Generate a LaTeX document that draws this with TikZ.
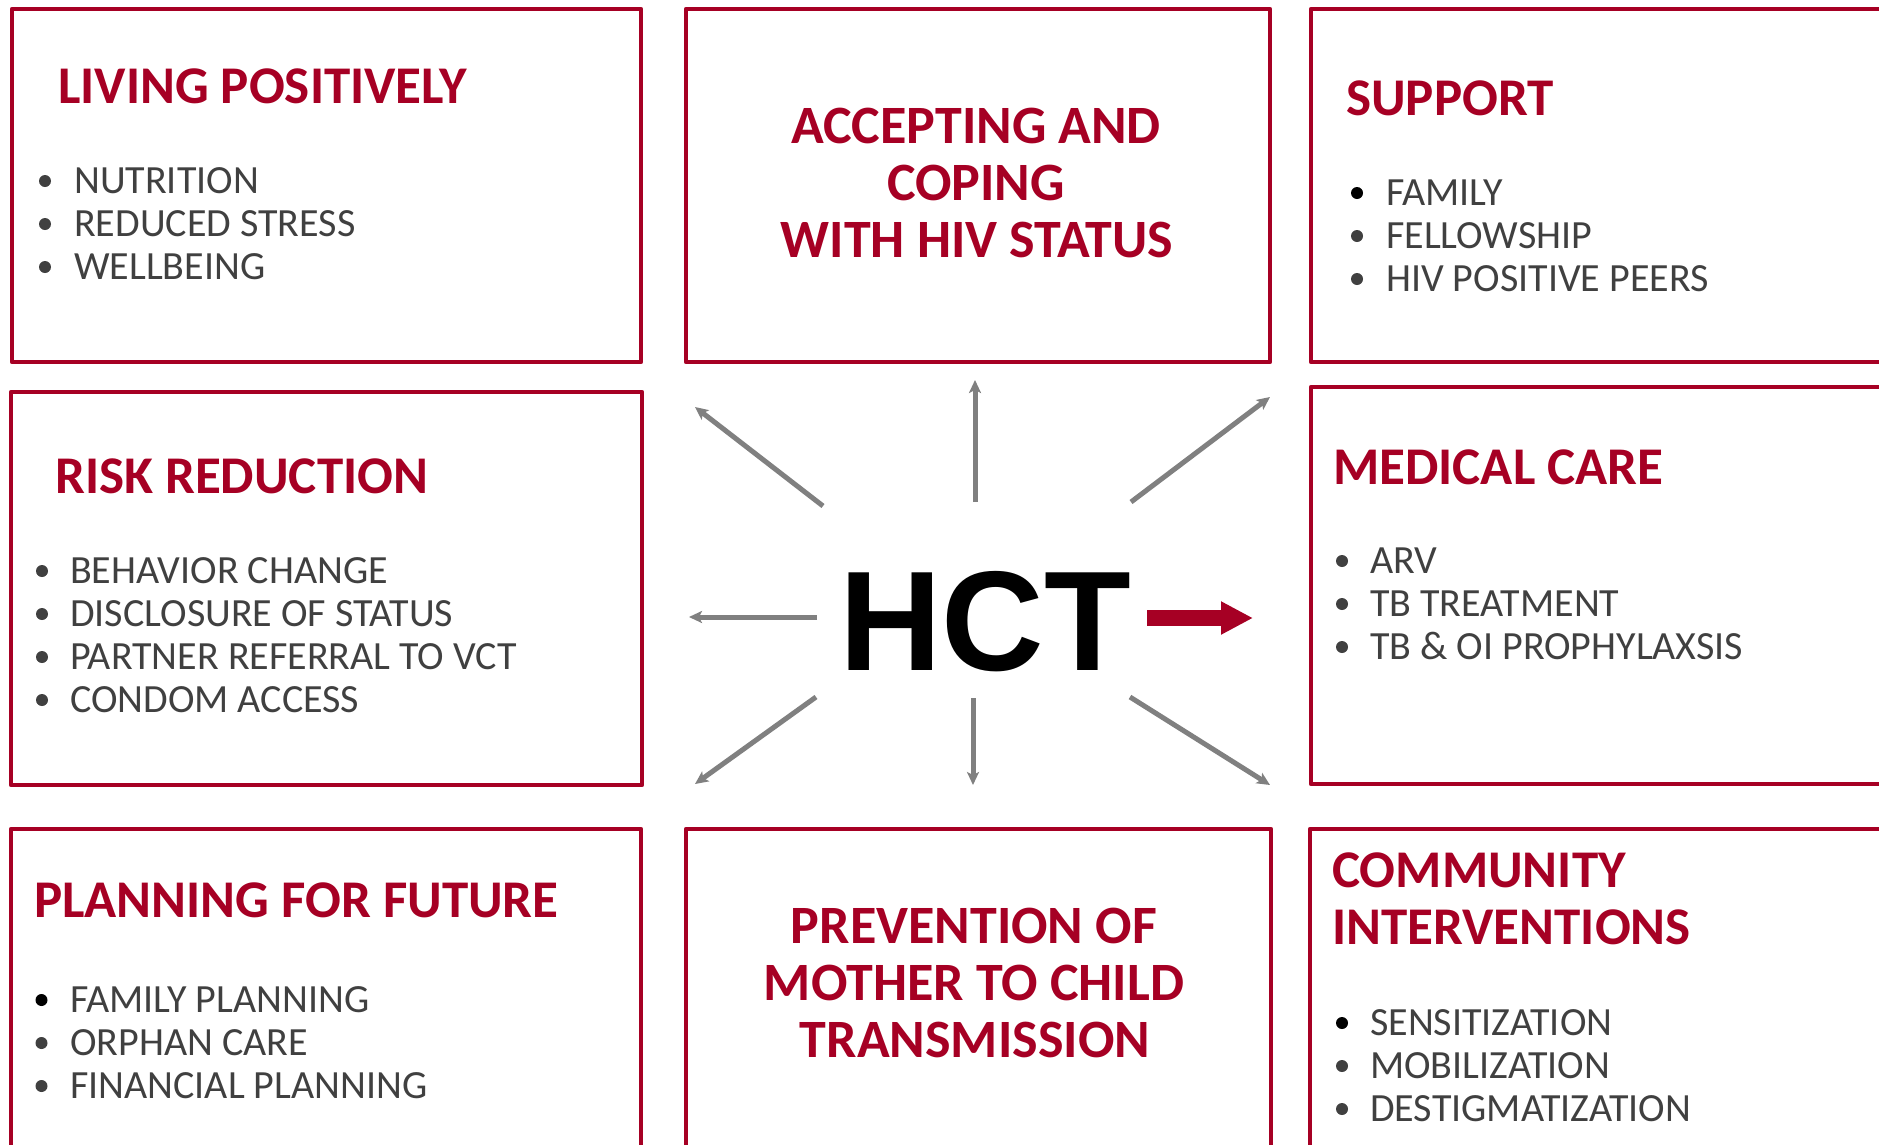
\documentclass[tikz,border=0pt]{standalone}
\usepackage{fontspec}
\setmainfont{Carlito}
\newfontfamily\arialfont{Liberation Sans}
\usetikzlibrary{arrows.meta}
\definecolor{boxred}{RGB}{166,0,36}
\definecolor{txtgray}{RGB}{64,64,64}
\definecolor{arrgray}{RGB}{128,128,128}
\tikzset{
  boxframe/.style={draw=boxred, line width=4.6pt, line join=round, inner sep=0pt, outer sep=0pt, anchor=north west},
  ttl/.style={text=boxred, font=\bfseries\fontsize{53}{57}\selectfont, inner sep=0pt, anchor=base west},
  ctl/.style={text=boxred, font=\bfseries\fontsize{54}{57}\selectfont, inner sep=0pt, anchor=base},
  itm/.style={text=txtgray, font=\fontsize{40}{43}\selectfont, inner sep=0pt, anchor=base west},
  dotn/.style={circle, inner sep=0pt, minimum size=12pt, draw=none},
  garrow/.style={draw=arrgray, line width=5pt, -{Stealth[length=13pt,width=12pt,inset=3pt]}},
  rarrow/.style={draw=boxred, line width=16pt, -{Triangle[length=32pt,width=31pt]}}
}
\newcommand\mkbox[5]{\node[boxframe, minimum width={#4-#2}, minimum height={#5-#3}] (#1) at (#2,-#3) {};}
\newcommand\mkitems[5]{%
  \foreach \itmtxt/\itmcol [count=\ii] in {#5} {
    \pgfmathsetmacro\yb{#4+43*(\ii-1)}
    \node[dotn, fill=\itmcol] (#1d\ii) at (#2,-\yb+12) {};
    \node[itm] (#1\ii) at (#3,-\yb) {\itmtxt};
  }}
\begin{document}
\begin{tikzpicture}[x=1pt,y=1pt]
\useasboundingbox (0,0) rectangle (1879,-1144);
\clip (0,0) rectangle (1879,-1144);
\fill[white] (0,0) rectangle (1879,-1144);

% boxes
\mkbox{lp}{12}{9}{641}{362}
\mkbox{acc}{686}{9}{1270}{362}
\mkbox{sup}{1311}{9}{1910}{362}
\mkbox{rr}{11}{392}{642}{785}
\mkbox{mc}{1311}{387}{1910}{784}
\mkbox{pf}{11}{829}{641}{1170}
\mkbox{pm}{686}{829}{1271}{1170}
\mkbox{ci}{1310}{829}{1910}{1170}

% titles
\node[ttl] (lpT) at (58,-103) {LIVING POSITIVELY};
\node[ttl] (supT) at (1346,-115) {SUPPORT};
\node[ttl] (rrT) at (55,-493) {RISK REDUCTION};
\node[ttl] (mcT) at (1333,-484) {MEDICAL CARE};
\node[ttl] (pfT) at (34,-917) {PLANNING FOR FUTURE};
\node[ttl] (ciT1) at (1332,-887) {COMMUNITY};
\node[ttl] (ciT2) at (1332,-944) {INTERVENTIONS};
\node[ctl] (accT1) at (976,-143) {ACCEPTING AND};
\node[ctl] (accT2) at (976,-200) {COPING};
\node[ctl] (accT3) at (977,-257) {WITH HIV STATUS};
\node[ctl] (pmT1) at (974,-943) {PREVENTION OF};
\node[ctl] (pmT2) at (974,-1000) {MOTHER TO CHILD};
\node[ctl] (pmT3) at (975,-1057) {TRANSMISSION};

% bullet lists
\mkitems{lpi}{45}{74}{193}{NUTRITION/txtgray, REDUCED STRESS/txtgray, WELLBEING/txtgray}
\mkitems{supi}{1357}{1386}{205}{FAMILY/black, FELLOWSHIP/txtgray, HIV POSITIVE PEERS/txtgray}
\mkitems{rri}{42}{70}{583}{BEHAVIOR CHANGE/txtgray, DISCLOSURE OF STATUS/txtgray, PARTNER REFERRAL TO VCT/txtgray, CONDOM ACCESS/txtgray}
\mkitems{mci}{1342}{1370}{573}{ARV/txtgray, TB TREATMENT/txtgray, TB \& OI PROPHYLAXSIS/txtgray}
\mkitems{pfi}{41.5}{70}{1012}{FAMILY PLANNING/black, ORPHAN CARE/txtgray, FINANCIAL PLANNING/txtgray}
\mkitems{cii}{1342}{1370}{1035}{SENSITIZATION/black, MOBILIZATION/txtgray, DESTIGMATIZATION/txtgray}

% centre
\node[font=\arialfont\bfseries\fontsize{142}{142}\selectfont, text=black, inner sep=0pt, anchor=base] (hct) at (985,-670) {HCT};

\coordinate (uT) at (975,-502);   \coordinate (uH) at (975,-380);
\coordinate (ulT) at (823,-506);  \coordinate (ulH) at (695,-407);
\coordinate (urT) at (1131,-502); \coordinate (urH) at (1270,-397);
\coordinate (lT) at (817,-617);   \coordinate (lH) at (689,-617);
\coordinate (dlT) at (816,-697);  \coordinate (dlH) at (695,-784);
\coordinate (dT) at (973,-698);   \coordinate (dH) at (973,-785);
\coordinate (drT) at (1130,-697); \coordinate (drH) at (1270,-785);
\coordinate (rT) at (1147,-618);  \coordinate (rH) at (1253,-618);

\draw[garrow] (uT) -- (uH);
\draw[garrow] (ulT) -- (ulH);
\draw[garrow] (urT) -- (urH);
\draw[garrow] (lT) -- (lH);
\draw[garrow] (dlT) -- (dlH);
\draw[garrow] (dT) -- (dH);
\draw[garrow] (drT) -- (drH);
\draw[rarrow] (rT) -- (rH);
\end{tikzpicture}
\end{document}
